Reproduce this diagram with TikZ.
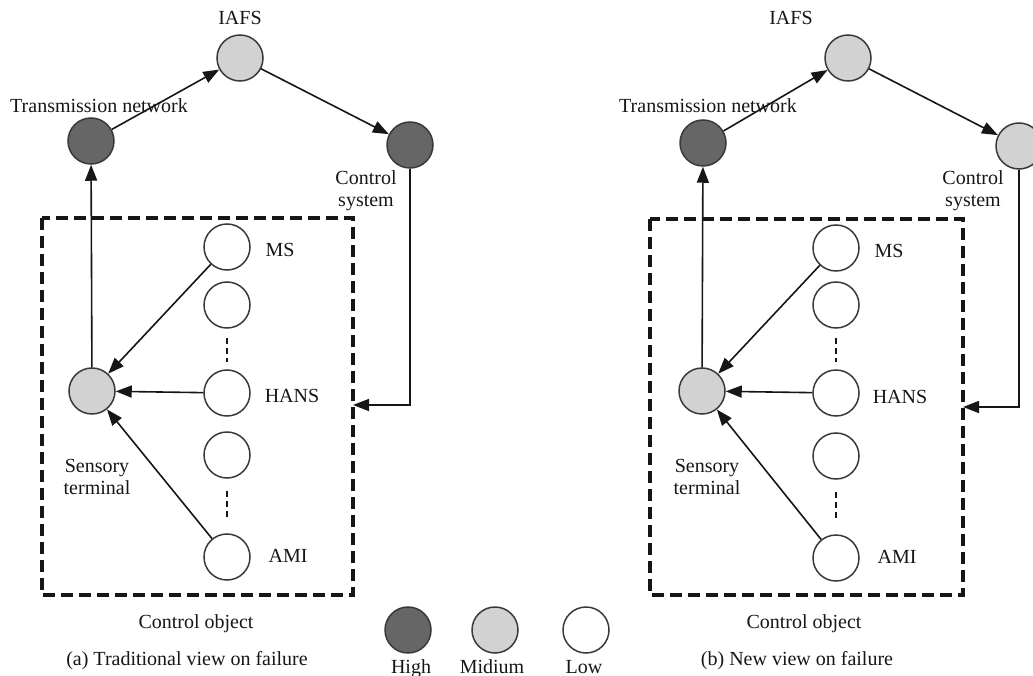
\documentclass[tikz,border=0pt]{standalone}
\usepackage{fontspec}
\setmainfont{Liberation Serif}
\usetikzlibrary{arrows.meta}
\definecolor{high}{HTML}{666666}
\definecolor{mid}{HTML}{D2D2D2}
\definecolor{ink}{HTML}{161616}

\begin{document}
\begin{tikzpicture}[x=1pt,y=-1pt,
  every node/.style={font=\fontsize{20}{22}\selectfont, text=ink},
  lvl/.style={circle, draw=ink!85, line width=1.5pt, minimum size=46pt, inner sep=0pt},
  hi/.style={lvl, fill=high},
  md/.style={lvl, fill=mid},
  lo/.style={lvl, fill=white},
  lbl/.style={inner sep=0pt, text height=14pt, text depth=4pt},
  lbl2/.style={inner sep=0pt, align=center},
  flow/.style={draw=ink, line width=1.6pt, -{Triangle[length=16pt,width=12pt]}},
  objbox/.style={draw=ink, line width=3.4pt, dash pattern=on 12pt off 6pt},
  gap/.style={draw=ink, line width=2.4pt, dash pattern=on 6pt off 4pt},
]
\useasboundingbox (0,0) rectangle (1033,676);

% ---------- (a) traditional view ----------
\draw[objbox] (42,218) rectangle (353,595);
\coordinate (inA) at (353,405);

\node[md] (iafsA) at (240,58) {};
\node[lbl] (iafsAl) at (240,20) {IAFS};
\node[hi] (trA) at (91,141) {};
\node[lbl] (trAl) at (99,108) {Transmission network};
\node[hi] (csA) at (410,145) {};
\node[lbl2] (csAl) at (366,191) {Control\\system};

\node[md] (stA) at (92,391) {};
\node[lbl2] (stAl) at (97,477) {Sensory\\terminal};

\node[lo] (msA) at (227,247) {};
\node[lbl] (msAl) at (280,252) {MS};
\node[lo] (c2A) at (227,305) {};
\node[lo] (hansA) at (227,393) {};
\node[lbl] (hansAl) at (292,397) {HANS};
\node[lo] (c4A) at (227,455) {};
\node[lo] (amiA) at (227,557) {};
\node[lbl] (amiAl) at (288,557) {AMI};

\draw[gap, shorten <=9pt, shorten >=7pt] (c2A) -- (hansA);
\draw[gap, shorten <=12pt, shorten >=14pt] (c4A) -- (amiA);

\draw[flow] (stA) -- (trA);
\draw[flow] (trA) -- (iafsA);
\draw[flow] (iafsA) -- (csA);
\draw[flow] (csA) |- (inA);
\draw[flow] (msA) -- (stA);
\draw[flow] (hansA) -- (stA);
\draw[flow] (amiA) -- (stA);

\node[lbl] (objAl) at (196,623) {Control object};
\node[lbl] (capA) at (187,660) {(a) Traditional view on failure};

% ---------- legend ----------
\node[hi] (legH) at (408,630) {};
\node[md] (legM) at (495,630) {};
\node[lo] (legL) at (586,630) {};
\node[lbl] (legHl) at (411,668) {High};
\node[lbl] (legMl) at (492,668) {Midium};
\node[lbl] (legLl) at (584,668) {Low};

% ---------- (b) new view ----------
\draw[objbox] (650,219) rectangle (963,595);
\coordinate (inB) at (963,407);

\node[md] (iafsB) at (848,58) {};
\node[lbl] (iafsBl) at (791,20) {IAFS};
\node[hi] (trB) at (703,143) {};
\node[lbl] (trBl) at (708,108) {Transmission network};
\node[md] (csB) at (1019,146) {};
\node[lbl2] (csBl) at (973,191) {Control\\system};

\node[md] (stB) at (702,391) {};
\node[lbl2] (stBl) at (707,477) {Sensory\\terminal};

\node[lo] (msB) at (836,248) {};
\node[lbl] (msBl) at (889,253) {MS};
\node[lo] (c2B) at (836,305) {};
\node[lo] (hansB) at (836,393) {};
\node[lbl] (hansBl) at (900,398) {HANS};
\node[lo] (c4B) at (836,456) {};
\node[lo] (amiB) at (836,558) {};
\node[lbl] (amiBl) at (897,558) {AMI};

\draw[gap, shorten <=9pt, shorten >=7pt] (c2B) -- (hansB);
\draw[gap, shorten <=12pt, shorten >=14pt] (c4B) -- (amiB);

\draw[flow] (stB) -- (trB);
\draw[flow] (trB) -- (iafsB);
\draw[flow] (iafsB) -- (csB);
\draw[flow] (csB) |- (inB);
\draw[flow] (msB) -- (stB);
\draw[flow] (hansB) -- (stB);
\draw[flow] (amiB) -- (stB);

\node[lbl] (objBl) at (804,623) {Control object};
\node[lbl] (capB) at (797,660) {(b) New view on failure};
\end{tikzpicture}
\end{document}
